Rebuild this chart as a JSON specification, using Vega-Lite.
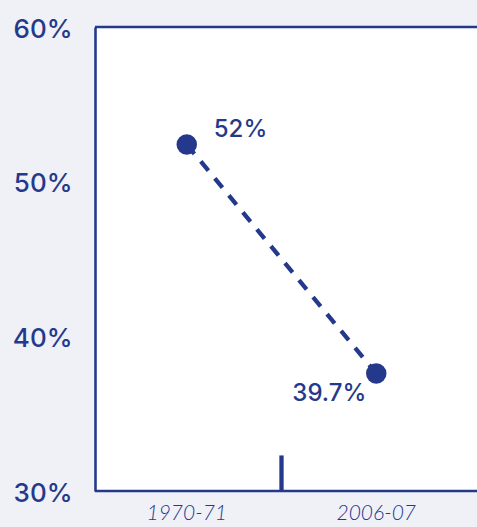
{
  "$schema": "https://vega.github.io/schema/vega-lite/v6.json",
  "width": 382,
  "height": 464,
  "autosize": "none",
  "padding": {"left": 95, "top": 27, "right": 0, "bottom": 36},
  "background": "#eff1f7",
  "config": {"view": {"stroke": null, "fill": "#ffffff"}},
  "datasets": {
    "points": [
      {"period": "1970-71", "value": 52.4, "label": "52%"},
      {"period": "2006-07", "value": 37.6, "label": "39.7%"}
    ],
    "frame": [{"y": 60}, {"y": 30}],
    "divider": [{"period": "2006-07", "y": 30, "y2": 32.3}]
  },
  "layer": [
    {
      "data": {"name": "frame"},
      "mark": {"type": "rule", "color": "#25398c", "strokeWidth": 2.6},
      "encoding": {
        "y": {"field": "y", "type": "quantitative", "scale": {"domain": [30, 60]}}
      }
    },
    {
      "data": {"name": "divider"},
      "mark": {"type": "rule", "color": "#25398c", "strokeWidth": 4.3},
      "encoding": {
        "x": {"field": "period", "type": "nominal", "bandPosition": 0},
        "y": {"field": "y", "type": "quantitative"},
        "y2": {"field": "y2"}
      }
    },
    {
      "data": {"name": "points"},
      "mark": {"type": "line", "color": "#25398c", "strokeWidth": 4.3, "strokeDash": [12, 10]},
      "encoding": {
        "x": {
          "field": "period", "type": "nominal",
          "scale": {"type": "band", "domain": ["1970-71", "2006-07"], "range": [-3, 376], "paddingInner": 0, "paddingOuter": 0},
          "axis": {"title": null, "domain": false, "ticks": false, "labelAngle": 0, "labelAlign": "center", "labelBaseline": "top", "bandPosition": 0.5, "labelFont": "Lato", "labelFontStyle": "italic", "labelFontWeight": 300, "labelFontSize": 21, "labelColor": "#25398c", "labelPadding": 11}
        },
        "y": {
          "field": "value", "type": "quantitative",
          "scale": {"domain": [30, 60]},
          "axis": {"title": null, "grid": false, "ticks": false, "values": [30, 40, 50, 60], "labelExpr": "datum.value + '%'", "domainColor": "#25398c", "domainWidth": 2.6, "labelFont": "Inter", "labelFontWeight": 500, "labelFontSize": 26, "labelColor": "#25398c", "labelPadding": 23, "labelBaseline": "middle", "labelOffset": 2}
        }
      }
    },
    {
      "data": {"name": "points"},
      "mark": {"type": "circle", "color": "#25398c", "size": 420, "opacity": 1},
      "encoding": {
        "x": {"field": "period", "type": "nominal"},
        "y": {"field": "value", "type": "quantitative"}
      }
    },
    {
      "data": {"name": "points"},
      "transform": [{"filter": "datum.period == '1970-71'"}],
      "mark": {"type": "text", "color": "#25398c", "font": "Inter", "fontWeight": 500, "fontSize": 24, "align": "left", "baseline": "middle", "dx": 27, "dy": -15},
      "encoding": {
        "x": {"field": "period", "type": "nominal"},
        "y": {"field": "value", "type": "quantitative"},
        "text": {"field": "label"}
      }
    },
    {
      "data": {"name": "points"},
      "transform": [{"filter": "datum.period == '2006-07'"}],
      "mark": {"type": "text", "color": "#25398c", "font": "Inter", "fontWeight": 500, "fontSize": 24, "align": "right", "baseline": "middle", "dx": -10, "dy": 21},
      "encoding": {
        "x": {"field": "period", "type": "nominal"},
        "y": {"field": "value", "type": "quantitative"},
        "text": {"field": "label"}
      }
    }
  ]
}
